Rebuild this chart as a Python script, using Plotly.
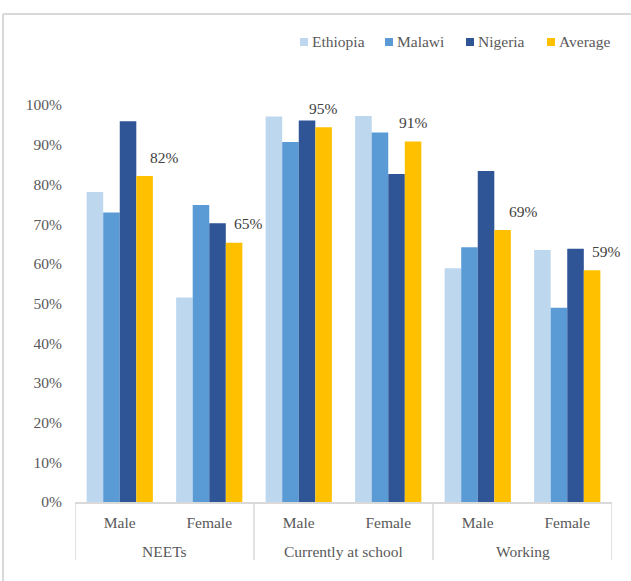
import plotly.graph_objects as go

groups = ["NEETs", "Currently at school", "Working"]
categories = ["Male", "Female", "Male", "Female", "Male", "Female"]
series_names = ["Ethiopia", "Malawi", "Nigeria", "Average"]
ethiopia = [0.781, 0.515, 0.971, 0.972, 0.589, 0.635]
malawi = [0.729, 0.748, 0.907, 0.931, 0.642, 0.489]
nigeria = [0.959, 0.702, 0.961, 0.826, 0.834, 0.638]
average = [0.821, 0.653, 0.944, 0.908, 0.685, 0.584]
avg_labels = ["82%", "65%", "95%", "91%", "69%", "59%"]

colors = ["#BDD7EE", "#5B9BD5", "#2F5597", "#FFC000"]
label_xshift = [20, 14, 0, 0, 21, 14]  # style: label placement offsets (px)
legend_px = [300, 385, 466, 547]         # style: legend entry left edges (px)

FONT = "Liberation Serif"
TXT = "#595959"
GRID = "#D9D9D9"
W, H = 631, 581
ML, MR, MT, MB = 75, 19, 105, 79
PW, PH = W - ML - MR, H - MT - MB


def px2x(px):
    return (px - ML) / PW


def py2y(py):
    return (H - MB - py) / PH


xpos = list(range(len(categories)))
BARGAP = 0.26

fig = go.Figure()
for name, vals, col in zip(series_names, [ethiopia, malawi, nigeria, average], colors):
    fig.add_trace(go.Bar(x=xpos, y=vals, name=name, marker=dict(color=col, line=dict(width=0)),
                         showlegend=False))

# data labels on Average bars
bw = (1 - BARGAP) / 4
for i, (v, t) in enumerate(zip(average, avg_labels)):
    fig.add_annotation(x=i + 1.5 * bw, y=v, xref="x", yref="y", text=t, showarrow=False,
                       xshift=label_xshift[i], yshift=19, yanchor="middle",
                       font=dict(family=FONT, size=15.5, color="#404040"))

# group labels
for gi, g in enumerate(groups):
    fig.add_annotation(x=gi * 2 + 0.5, y=-0.124, xref="x", yref="paper", text=g, showarrow=False,
                       yanchor="middle", font=dict(family=FONT, size=15.5, color=TXT))

# dividers
for gx in [-0.5, 1.5, 3.5, 5.5]:
    fig.add_shape(type="line", x0=gx, x1=gx, y0=0, y1=-0.146, xref="x", yref="paper",
                  line=dict(color=GRID, width=1.5))

# outer frame (top and left edges)
fig.add_shape(type="line", xref="paper", yref="paper", x0=px2x(3), x1=px2x(700), y0=py2y(14), y1=py2y(14),
              line=dict(color=GRID, width=2))
fig.add_shape(type="line", xref="paper", yref="paper", x0=px2x(3), x1=px2x(3), y0=py2y(14), y1=py2y(700),
              line=dict(color=GRID, width=2))

# legend (manual, to match compact Excel layout)
LEG_Y = 42
for name, col, lx in zip(series_names, colors, legend_px):
    fig.add_shape(type="rect", xref="paper", yref="paper",
                  x0=px2x(lx), x1=px2x(lx + 8), y0=py2y(LEG_Y - 4), y1=py2y(LEG_Y + 4),
                  fillcolor=col, line=dict(width=0))
    fig.add_annotation(x=px2x(lx + 10), y=py2y(LEG_Y), xref="paper", yref="paper", text=name,
                       showarrow=False, xanchor="left", yanchor="middle",
                       font=dict(family=FONT, size=15.5, color=TXT))

fig.update_layout(
    width=W, height=H,
    margin=dict(l=ML, r=MR, t=MT, b=MB, autoexpand=False),
    paper_bgcolor="white", plot_bgcolor="white",
    barmode="group", bargap=BARGAP, bargroupgap=0,
    font=dict(family=FONT, size=15.5, color=TXT),
    showlegend=False,
    xaxis=dict(range=[-0.5, 5.5], tickvals=xpos, ticktext=categories, showgrid=False,
               showline=True, linecolor=GRID, linewidth=1.5, ticks="", zeroline=False,
               tickfont=dict(family=FONT, size=15.5, color=TXT), ticklabelstandoff=6),
    yaxis=dict(range=[0, 1.0], tickvals=[i / 10 for i in range(11)], tickformat=".0%",
               showgrid=False, zeroline=False, showline=False, ticks="",
               tickfont=dict(family=FONT, size=15.5, color=TXT), ticklabelstandoff=12),
)

fig.write_html("out.html")
